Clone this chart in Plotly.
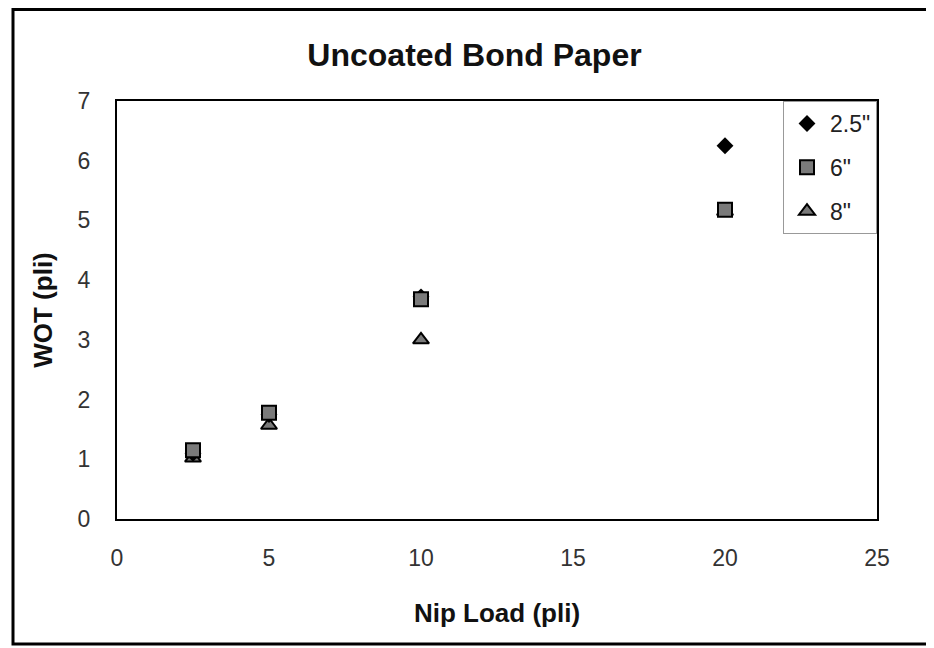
import plotly.graph_objects as go

nip_load = [2.5, 5, 10, 20]
wot_25 = [1.10, 1.75, 3.72, 6.25]
wot_6 = [1.15, 1.78, 3.68, 5.18]
wot_8 = [1.02, 1.57, 3.00, 5.15]

x_ticks = [0, 5, 10, 15, 20, 25]
y_ticks = [0, 1, 2, 3, 4, 5, 6, 7]

FONT = "Arial, Liberation Sans, sans-serif"

fig = go.Figure()

# draw order: 8" first (beneath), then 2.5", then 6" on top
fig.add_trace(go.Scatter(
    x=nip_load, y=wot_8, mode="markers", name='8"', legendrank=3,
    legendgroup="c",
    marker=dict(symbol="triangle-up", size=14, color="#7a7a7a",
                line=dict(color="black", width=2)),
))
fig.add_trace(go.Scatter(
    x=nip_load, y=wot_25, mode="markers", name='2.5"', legendrank=1,
    legendgroup="a",
    marker=dict(symbol="diamond", size=13, color="black",
                line=dict(color="black", width=0)),
))
fig.add_trace(go.Scatter(
    x=nip_load, y=wot_6, mode="markers", name='6"', legendrank=2,
    legendgroup="b",
    marker=dict(symbol="square", size=14, color="#7a7a7a",
                line=dict(color="black", width=2)),
))

# page body adds an 8px offset, so layout is shifted up-left by 8px
OFF = 8
W, H = 934, 648
L = 117 - OFF
T = 101 - OFF
R = W - (877 - OFF)
B = H - (519 - OFF)
pw = W - L - R
ph = H - T - B

def px_x(p):
    return (p - OFF - L) / pw

def px_y(p):
    return (H - B - (p - OFF)) / ph

fig.update_layout(
    width=W, height=H,
    margin=dict(l=L, r=R, t=T, b=B, autoexpand=False),
    paper_bgcolor="white", plot_bgcolor="white",
    font=dict(family=FONT, color="#222222"),
    title=dict(text="<b>Uncoated Bond Paper</b>", x=(474.5 - OFF) / W, xref="container",
               xanchor="center", y=1 - (55 - OFF) / H, yref="container", yanchor="middle",
               font=dict(size=32, color="#111111", family=FONT)),
    xaxis=dict(range=[0, 25], tickvals=x_ticks, showgrid=False, zeroline=False,
               showline=True, linecolor="black", linewidth=2, mirror=True,
               ticks="", ticklabelstandoff=17,
               tickfont=dict(size=23, color="#333333", family=FONT),
               title=dict(text="<b>Nip Load (pli)</b>", standoff=34,
                          font=dict(size=26, color="#111111", family=FONT))),
    yaxis=dict(range=[0, 7], tickvals=y_ticks, showgrid=False, zeroline=False,
               showline=True, linecolor="black", linewidth=2, mirror=True,
               ticks="", ticklabelstandoff=20,
               tickfont=dict(size=23, color="#333333", family=FONT),
               title=dict(text="<b>WOT (pli)</b>", standoff=18,
                          font=dict(size=26, color="#111111", family=FONT))),
    legend=dict(x=1, y=1, xanchor="right", yanchor="top",
                bgcolor="white", bordercolor="#999999", borderwidth=1,
                font=dict(size=23, color="#222222", family=FONT),
                traceorder="grouped", tracegroupgap=11, itemwidth=36),
    showlegend=True,
    shapes=[dict(type="rect", xref="paper", yref="paper",
                 x0=px_x(13), x1=px_x(929), y0=px_y(644), y1=px_y(9.5),
                 line=dict(color="black", width=3), layer="below")],
)

fig.write_html("out.html")
